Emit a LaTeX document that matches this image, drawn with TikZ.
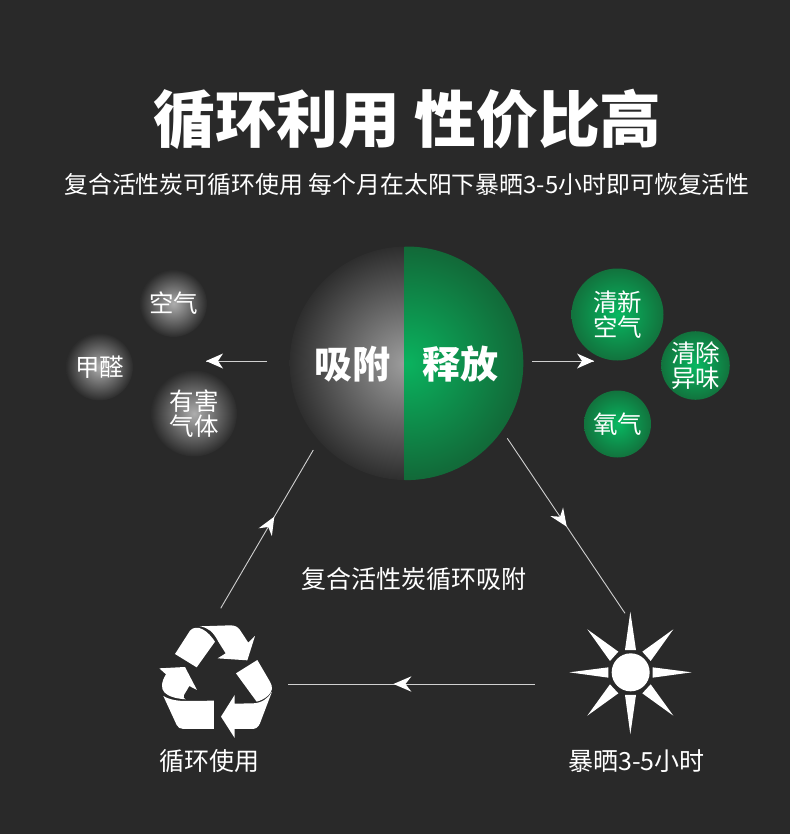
\documentclass[tikz,border=0pt]{standalone}
\usepackage{fontspec}
\setmainfont{Noto Sans CJK SC}
\usetikzlibrary{decorations.markings}
\definecolor{bgc}{HTML}{292929}
\definecolor{linec}{HTML}{D0D0D0}
\pgfdeclareradialshading{bigGray}{\pgfpoint{0bp}{0bp}}{rgb(0bp)=(0.62,0.62,0.62);rgb(25bp)=(0.18,0.18,0.18);rgb(50bp)=(0.18,0.18,0.18)}
\pgfdeclareradialshading{bigGreen}{\pgfpoint{0bp}{0bp}}{rgb(0bp)=(0.04,0.70,0.37);rgb(25bp)=(0.07,0.41,0.22);rgb(50bp)=(0.07,0.41,0.22)}
\pgfdeclareradialshading{smGray}{\pgfpoint{0bp}{0bp}}{rgb(0bp)=(0.68,0.68,0.68);rgb(25bp)=(0.17,0.17,0.17);rgb(50bp)=(0.17,0.17,0.17)}
\pgfdeclareradialshading{smGreen}{\pgfpoint{0bp}{0bp}}{rgb(0bp)=(0.03,0.72,0.38);rgb(25bp)=(0.07,0.45,0.24);rgb(50bp)=(0.07,0.45,0.24)}
\tikzset{
  x=1pt,y=-1pt,
  titletxt/.style={text=white,inner sep=0,font=\fontsize{61.8}{62}\selectfont\bfseries},
  subtxt/.style={text=white,inner sep=0,font=\fontsize{23.9}{24}\selectfont},
  captxt/.style={text=white,inner sep=0,font=\fontsize{25}{25}\selectfont},
  halftxt/.style={text=white,inner sep=0,font=\fontsize{38}{38}\selectfont\bfseries},
  ballbase/.style={circle,inner sep=0,text=white,align=center,font=\fontsize{24.5}{25}\selectfont},
  grayball/.style={ballbase,shading=smGray,minimum size=#1},
  greenball/.style={ballbase,shading=smGreen,minimum size=#1},
  link/.style={draw=linec,line width=0.9pt},
  headat/.style={postaction={decorate},decoration={markings,mark=at position #1 with {
     \fill[white] (0pt,0pt) -- (-18pt,7.7pt) -- (-12pt,0pt) -- (-18pt,-7.7pt) -- cycle;}}},
  glyph/.style={fill=white,draw=none},
}
\begin{document}
\begin{tikzpicture}
\useasboundingbox (0,0) rectangle (790,834);
\fill[bgc] (0,0) rectangle (790,834);

\node[titletxt] (title) at (407.5,119) {循环利用 性价比高};
\node[subtxt] (sub) at (407,184) {复合活性炭可循环使用 每个月在太阳下暴晒3-5小时即可恢复活性};

% big ball
\begin{scope}
  \clip (288,240) rectangle (404.5,486);
  \shade[shading=bigGray] (406.5,363.3) circle[radius=116.8];
\end{scope}
\begin{scope}
  \clip (404.5,240) rectangle (528,486);
  \shade[shading=bigGreen] (406.5,363.3) circle[radius=116.8];
\end{scope}
\node[halftxt] (absorb) at (352,364) {吸附};
\node[halftxt] (release) at (460.5,364) {释放};

% small balls
\node[grayball=67pt] (air) at (173.5,303.5) {空气};
\node[grayball=67pt] (hcho) at (99.5,367) {甲醛};
\node[grayball=86pt] (gas) at (194,413.5) {有害\\气体};
\node[greenball=92pt] (fresh) at (617.5,314.5) {清新\\空气};
\node[greenball=67pt] (odor) at (695.5,365.5) {清除\\异味};
\node[greenball=67pt] (oxy) at (617.5,424) {氧气};

% connector ends
\coordinate (la) at (267,361);
\coordinate (lb) at (206,361);
\coordinate (ra) at (532,361);
\coordinate (rb) at (594,361);
\coordinate (t1) at (220.7,608.3);
\coordinate (t2) at (313.3,450);
\coordinate (t3) at (507.3,438.3);
\coordinate (t4) at (625,613.3);
\coordinate (t5) at (534.5,684);
\coordinate (t6) at (288.3,684);

\draw[link] (la) -- (lb);
\fill[white] (206,361) -- (223,353.5) -- (218,361) -- (223,368.5) -- cycle;
\draw[link] (ra) -- (rb);
\fill[white] (594,361) -- (577,353.5) -- (582,361) -- (577,368.5) -- cycle;
\draw[link,headat=0.579] (t1) -- (t2);
\draw[link,headat=0.505] (t3) -- (t4);
\draw[link,headat=0.573] (t5) -- (t6);

\node[captxt] (cyc) at (414,579) {复合活性炭循环吸附};
\node[captxt] (use) at (209.5,761) {循环使用};
\node[captxt] (sun) at (636.5,761) {暴晒3-5小时};

% recycle symbol (traced, zoom coordinates)
\begin{scope}[shift={(140,610)},x=0.3333pt,y=-0.3333pt]
  \fill[glyph] (105,132) -- (150,62) .. controls (158,52) and (175,50) .. (188,58)
     .. controls (203,66) and (215,80) .. (225,95) -- (170,172) -- cycle;
  \fill[glyph] (178,49) -- (270,46) .. controls (285,46) and (293,50) .. (300,60)
     -- (325,98) -- (345,78) -- (322,151) -- (233,145) -- (257,130) -- (235,95)
     .. controls (220,66) and (205,52) .. (178,49) -- cycle;
  \fill[glyph] (288,190) -- (352,150) -- (390,215) .. controls (400,232) and (397,245) .. (384,257)
     .. controls (374,266) and (362,272) .. (350,275) -- cycle;
  \fill[glyph] (243,320) -- (284,255) -- (284,281) -- (340,280)
     .. controls (365,279) and (385,265) .. (396,245) -- (360,340)
     .. controls (355,352) and (348,357) .. (335,357) -- (284,357) -- (284,384) -- cycle;
  \fill[glyph] (58,175) -- (135,171) -- (171,240) -- (148,228) -- (132,255) .. controls (128,262) and (132,266) .. (137,268)
     .. controls (110,266) and (85,260) .. (73,247) .. controls (62,235) and (64,215) .. (78,193) -- cycle;
  \fill[glyph] (70,258) .. controls (90,270) and (115,273) .. (140,273) -- (222,272) -- (222,357)
     -- (130,357) .. controls (120,357) and (114,352) .. (110,345) -- cycle;
\end{scope}

% sun
\begin{scope}[shift={(560,600)},x=0.3333pt,y=-0.3333pt]
  \fill[glyph] (212,217) circle[radius=57];
  \fill[glyph] (211,35) -- (228,150) -- (195,150) -- cycle;
  \fill[glyph] (211,403) -- (228,285) -- (195,285) -- cycle;
  \fill[glyph] (28,217) -- (145,202) -- (145,233) -- cycle;
  \fill[glyph] (395,217) -- (278,202) -- (278,233) -- cycle;
  \fill[glyph] (82,88) -- (175,155) -- (150,183) -- cycle;
  \fill[glyph] (340,88) -- (247,155) -- (272,183) -- cycle;
  \fill[glyph] (82,347) -- (150,253) -- (175,280) -- cycle;
  \fill[glyph] (340,347) -- (272,253) -- (247,280) -- cycle;
\end{scope}
\end{tikzpicture}
\end{document}
